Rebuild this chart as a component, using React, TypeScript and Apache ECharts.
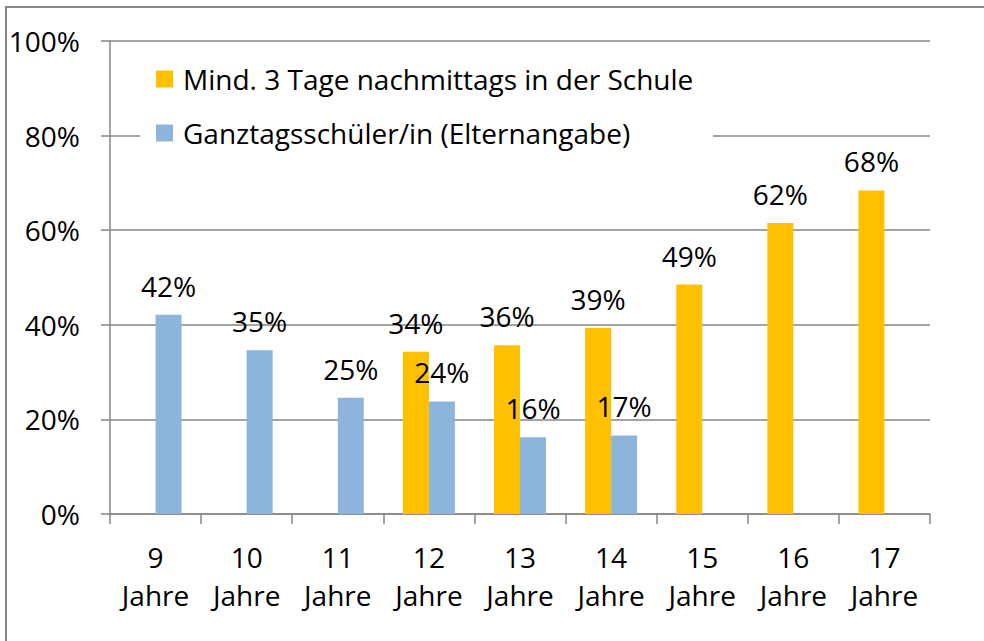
import React, { useEffect, useRef } from "react";
import * as echarts from "echarts";

const ages = [9, 10, 11, 12, 13, 14, 15, 16, 17];
const categories = ages.map((a) => `${a}\nJahre`);
const seriesNames = ["Mind. 3 Tage nachmittags in der Schule", "Ganztagsschüler/in (Elternangabe)"];
const nachmittagsValues: (number | null)[] = [null, null, null, 34.3, 35.7, 39.3, 48.5, 61.5, 68.4];
const ganztagsValues: (number | null)[] = [42.1, 34.6, 24.6, 23.8, 16.2, 16.6, null, null, null];
const yTicks = [0, 20, 40, 60, 80, 100];

const FONT = "Open Sans";
const FS = 28;
const GRAY = "#868686";

export default function App() {
  const ref = useRef<HTMLDivElement>(null);
  useEffect(() => {
    if (!ref.current) return;
    const chart = echarts.init(ref.current, null, { renderer: "svg" });
    const labelFmt = (p: any) => (p.value == null ? "" : Math.round(p.value) + "%");
    chart.setOption({
      animation: false,
      backgroundColor: "#ffffff",
      textStyle: { fontFamily: FONT },
      grid: { left: 110, right: 54, top: 41, bottom: 127, containLabel: false },
      legend: {
        orient: "vertical",
        left: 156,
        top: 64,
        padding: 0,
        z: 5,
        icon: "rect",
        itemWidth: 17,
        itemHeight: 17,
        itemGap: 24,
        data: seriesNames,
        textStyle: { fontFamily: FONT, fontSize: FS, color: "#000", lineHeight: 30, padding: [0, 0, 0, 5] },
      },
      graphic: [
        {
          type: "rect",
          z: 1,
          shape: { x: 140, y: 56, width: 573, height: 100 },
          style: { fill: "#ffffff" },
        },
        {
          type: "rect",
          z: 10,
          silent: true,
          shape: { x: 6, y: 7, width: 1200, height: 900 },
          style: { fill: "none", stroke: GRAY, lineWidth: 2 },
        },
      ],
      xAxis: {
        type: "category",
        data: categories,
        axisLine: { show: true, lineStyle: { color: GRAY, width: 1.5 } },
        axisTick: { show: true, length: 10, lineStyle: { color: GRAY, width: 1.5 } },
        axisLabel: { color: "#000", fontFamily: FONT, fontSize: FS, lineHeight: 38, margin: 24, interval: 0 },
      },
      yAxis: {
        type: "value",
        min: 0,
        max: 100,
        interval: 20,
        axisLine: { show: true, lineStyle: { color: GRAY, width: 1.5 } },
        axisTick: { show: true, inside: false, length: 9, lineStyle: { color: GRAY, width: 1.5 } },
        splitLine: { show: true, lineStyle: { color: GRAY, width: 1.5 } },
        axisLabel: {
          color: "#000",
          fontFamily: FONT,
          fontSize: FS,
          margin: 30,
          formatter: (v: number) => (yTicks.includes(v) ? v + "%" : ""),
        },
      },
      series: [
        {
          name: seriesNames[0],
          type: "bar",
          data: nachmittagsValues,
          barWidth: 26,
          barGap: "0%",
          itemStyle: { color: "#FFC000" },
          label: { show: true, position: "top", distance: 15, color: "#000", fontFamily: FONT, fontSize: FS, formatter: labelFmt },
        },
        {
          name: seriesNames[1],
          type: "bar",
          data: ganztagsValues,
          barWidth: 26,
          barGap: "0%",
          itemStyle: { color: "#8DB4DB" },
          label: { show: true, position: "top", distance: 15, color: "#000", fontFamily: FONT, fontSize: FS, formatter: labelFmt },
        },
      ],
    });
    return () => chart.dispose();
  }, []);
  return <div ref={ref} style={{ position: "absolute", left: 0, top: 0, width: 984, height: 641 }} />;
}
